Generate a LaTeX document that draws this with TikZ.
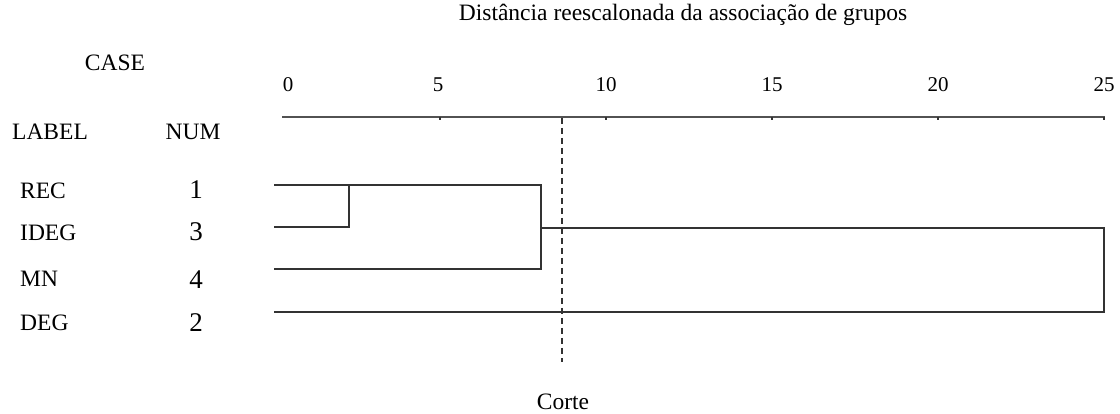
\documentclass[tikz,border=0pt]{standalone}
\usepackage{fontspec}
\setmainfont{Liberation Serif}
\definecolor{ink}{HTML}{333333}
\begin{document}
\begin{tikzpicture}[x=1pt,y=-1pt,
  txt/.style={font=\fontsize{23.5}{27}\selectfont, inner sep=0pt, text=black},
  axtxt/.style={font=\fontsize{21}{25}\selectfont, inner sep=0pt, text=black},
  numtxt/.style={font=\fontsize{27}{31}\selectfont, inner sep=0pt, text=black},
  dend/.style={draw=ink, line width=1.8pt, line cap=rect},
  axisline/.style={draw=ink!85, line width=1.8pt},
  tickmark/.style={draw=ink, line width=1.2pt},
  cutline/.style={draw=ink, line width=1.4pt, dash pattern=on 6pt off 4pt}]
\useasboundingbox[fill=white] (0,0) rectangle (1120,414);

% titles
\node[txt] (title) at (683,15) {Distância reescalonada da associação de grupos};
\node[txt] (case) at (115,63) {CASE};
\node[txt] (label) at (50,132) {LABEL};
\node[txt] (num) at (193,132) {NUM};

% axis numbers
\node[axtxt] (n0) at (288,85) {0};
\node[axtxt] (n5) at (438,85) {5};
\node[axtxt] (n10) at (606,85) {10};
\node[axtxt] (n15) at (772,85) {15};
\node[axtxt] (n20) at (938,85) {20};
\node[axtxt] (n25) at (1104,85) {25};

% axis
\coordinate (a0) at (282,117);
\coordinate (a25) at (1105,117);
\draw[axisline] (a0) -- (a25);
\foreach \xx in {440,606,772,938,1104}{
  \draw[tickmark] (\xx,117) -- (\xx,120);
}

% row labels
\node[txt, anchor=west] (lrec) at (20,191) {REC};
\node[txt, anchor=west] (lideg) at (20,233) {IDEG};
\node[txt, anchor=west] (lmn) at (20,279) {MN};
\node[txt, anchor=west] (ldeg) at (20,323) {DEG};
\node[numtxt] (d1) at (196,190) {1};
\node[numtxt] (d3) at (196,232) {3};
\node[numtxt] (d4) at (196,280) {4};
\node[numtxt] (d2) at (196,323) {2};

% dendrogram
\coordinate (rec0) at (275,185);
\coordinate (recj) at (349,185);
\coordinate (rec1) at (541,185);
\coordinate (ideg0) at (275,227);
\coordinate (idegj) at (349,227);
\coordinate (mn0) at (275,269);
\coordinate (mn1) at (541,269);
\coordinate (mid0) at (541,228);
\coordinate (mid1) at (1104,228);
\coordinate (deg0) at (275,312);
\coordinate (deg1) at (1104,312);

\draw[dend] (rec0) -- (rec1) -- (mn1) -- (mn0);
\draw[dend] (ideg0) -- (idegj) -- (recj);
\draw[dend] (mid0) -- (mid1) -- (deg1) -- (deg0);

% cut line
\coordinate (cut0) at (562,118);
\coordinate (cut1) at (562,362);
\draw[cutline] (cut0) -- (cut1);
\node[txt] (corte) at (563,402) {Corte};
\end{tikzpicture}
\end{document}
